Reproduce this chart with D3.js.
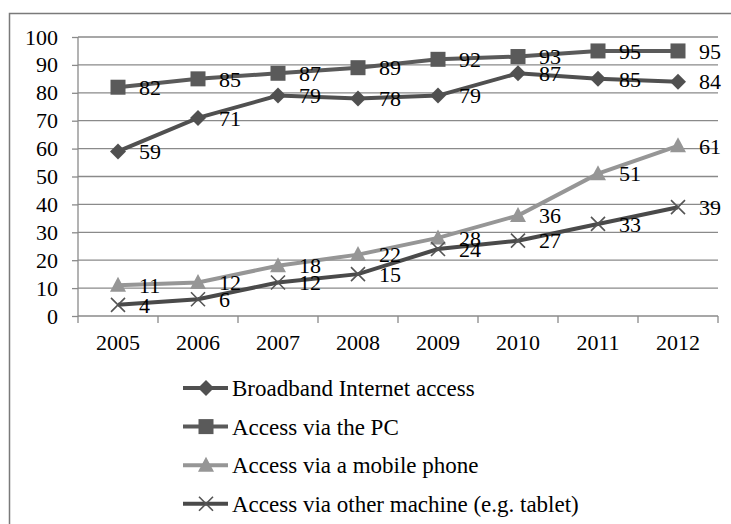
<!DOCTYPE html>
<html><head><meta charset="utf-8">
<script src="https://cdn.jsdelivr.net/npm/d3@7"></script>
<style>body{margin:0;background:#fff}svg{display:block}text{font-family:"Liberation Serif","Times New Roman",serif;fill:#000}</style>
</head><body>
<svg id="c" width="731" height="524"></svg>
<script>
const years = ["2005","2006","2007","2008","2009","2010","2011","2012"];
const yTicks = [0,10,20,30,40,50,60,70,80,90,100];
const seriesNames = ["Broadband Internet access","Access via the PC","Access via a mobile phone","Access via other machine (e.g. tablet)"];
const broadband = [59,71,79,78,79,87,85,84];
const pc = [82,85,87,89,92,93,95,95];
const mobile = [11,12,18,22,28,36,51,61];
const other = [4,6,12,15,24,27,33,39];

const series = [
  {name:seriesNames[0], values:broadband, color:"#505050", marker:"diamond"},
  {name:seriesNames[1], values:pc, color:"#5a5a5a", marker:"square"},
  {name:seriesNames[2], values:mobile, color:"#969696", marker:"triangle"},
  {name:seriesNames[3], values:other, color:"#4a4a4a", marker:"x"}
];

const svg = d3.select("#c");
const fs = 22, lfs = 23;
// outer border
svg.append("path").attr("d","M9.5,524 L9.5,13.5 L731,13.5").attr("fill","none").attr("stroke","#7a7a7a").attr("stroke-width",1.5);

const x = d3.scaleBand().domain(years).range([78,718]);
const y = d3.scaleLinear().domain([0,100]).range([316,37]);

// gridlines
svg.append("g").selectAll("line").data(yTicks.filter(d=>d>0)).join("line")
  .attr("x1",78).attr("x2",718).attr("y1",d=>y(d)).attr("y2",d=>y(d))
  .attr("stroke","#8a8a8a").attr("stroke-width",1.3);

// y axis
const ya = svg.append("g").attr("transform","translate(78,0)")
  .call(d3.axisLeft(y).tickValues(yTicks).tickSize(6).tickPadding(14));
ya.selectAll("text").style("font-size",fs+"px").attr("fill","#000");
ya.selectAll("line,path").attr("stroke","#8a8a8a").attr("stroke-width",1.3);
ya.select(".domain").attr("d","M0,316V37");

// x axis
const xa = svg.append("g").attr("transform","translate(0,316)")
  .call(d3.axisBottom(x).tickSize(0).tickPadding(18));
xa.selectAll("text").style("font-size",fs+"px").attr("fill","#000");
xa.select(".domain").attr("stroke","#8a8a8a").attr("stroke-width",1.3).attr("d","M78,0H718");
xa.append("g").selectAll("line").data(d3.range(years.length+1)).join("line")
  .attr("x1",i=>78+i*x.step()).attr("x2",i=>78+i*x.step()).attr("y1",0).attr("y2",7)
  .attr("stroke","#8a8a8a").attr("stroke-width",1.3);

function drawMarker(g, type, cx, cy, color){
  if(type==="diamond"){
    g.append("path").attr("d",`M${cx},${cy-8}L${cx+8},${cy}L${cx},${cy+8}L${cx-8},${cy}Z`).attr("fill",color);
  } else if(type==="square"){
    g.append("rect").attr("x",cx-7.5).attr("y",cy-7.5).attr("width",15).attr("height",15).attr("fill",color);
  } else if(type==="triangle"){
    g.append("path").attr("d",`M${cx},${cy-8.5}L${cx+8},${cy+6.5}L${cx-8},${cy+6.5}Z`).attr("fill",color);
  } else {
    g.append("path").attr("d",`M${cx-7},${cy-7}L${cx+7},${cy+7}M${cx+7},${cy-7}L${cx-7},${cy+7}`).attr("stroke","#555").attr("stroke-width",1.6);
  }
}

const line = d3.line().x((d,i)=>x(years[i])+x.bandwidth()/2).y(d=>y(d));
const order = [2,3,0,1];
order.forEach(si=>{
  const s = series[si];
  const g = svg.append("g");
  g.append("path").attr("d",line(s.values)).attr("fill","none").attr("stroke",s.color).attr("stroke-width",4);
  s.values.forEach((v,i)=>drawMarker(g,s.marker,x(years[i])+x.bandwidth()/2,y(v),s.color));
});
order.forEach(si=>{
  const s = series[si];
  svg.append("g").selectAll("text").data(s.values).join("text")
    .attr("x",(d,i)=>x(years[i])+x.bandwidth()/2+21).attr("y",d=>y(d)).attr("dy","0.35em")
    .style("font-size",fs+"px").text(d=>d);
});

// legend
const lg = svg.append("g");
series.forEach((s,i)=>{
  const ly = 388 + i*38.6;
  lg.append("line").attr("x1",183).attr("x2",228).attr("y1",ly).attr("y2",ly).attr("stroke",s.color).attr("stroke-width",4);
  drawMarker(lg,s.marker,206,ly,s.color);
  lg.append("text").attr("x",232).attr("y",ly).attr("dy","0.35em").style("font-size",lfs+"px").text(s.name);
});
</script>
</body></html>
